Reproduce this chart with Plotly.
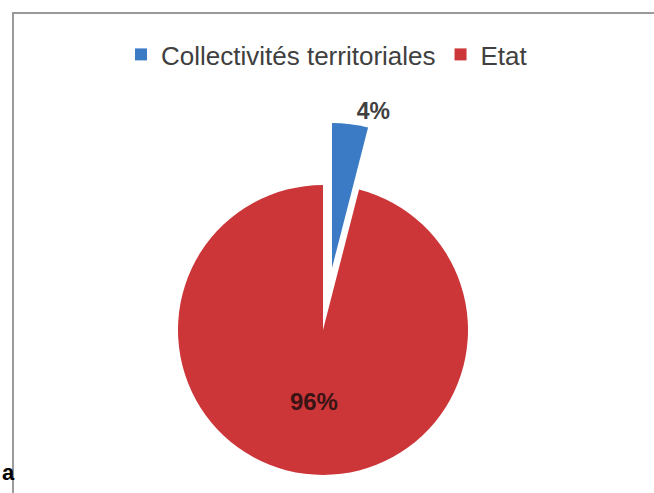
import plotly.graph_objects as go

labels = ["Collectivités territoriales", "Etat"]
values = [4, 96]
colors = ["#3B7BC6", "#CC3638"]
transparent = "rgba(0,0,0,0)"

W, H = 654, 493
FONT = "Liberation Sans"

# geometry (pixels)
red_c, red_r = (323, 330), 145
blue_c, blue_r = (332, 268), 145


def dom(c, r):
    cx, cy = c
    return dict(x=[(cx - r) / W, (cx + r) / W],
                y=[(H - cy - r) / H, (H - cy + r) / H])


fig = go.Figure()

# Red slice (Etat), in place
fig.add_trace(go.Pie(
    labels=labels, values=values, sort=False, direction="clockwise", rotation=0,
    marker=dict(colors=[transparent, colors[1]], line=dict(width=0)),
    textinfo="percent", textposition=["none", "inside"],
    insidetextorientation="horizontal",
    insidetextfont=dict(family=FONT, size=24, color="#3a1414", weight="bold"),
    domain=dom(red_c, red_r), showlegend=False, hoverinfo="label+percent",
))

# Blue slice (Collectivités territoriales), exploded
fig.add_trace(go.Pie(
    labels=labels, values=values, sort=False, direction="clockwise", rotation=0,
    marker=dict(colors=[colors[0], transparent], line=dict(width=0)),
    textinfo="percent", textposition=["outside", "none"],
    outsidetextfont=dict(family=FONT, size=23, color="#404040", weight="bold"),
    domain=dom(blue_c, blue_r), showlegend=False, hoverinfo="label+percent",
))

# legend entries
for lab, col in zip(labels, colors):
    fig.add_trace(go.Scatter(x=[None], y=[None], mode="markers", name=lab,
                             marker=dict(symbol="square", size=12, color=col)))

fig.update_layout(
    width=W, height=H, margin=dict(l=0, r=0, t=0, b=0),
    paper_bgcolor="white", plot_bgcolor="white",
    xaxis=dict(visible=False), yaxis=dict(visible=False),
    legend=dict(orientation="h", x=0.5, xanchor="center", y=1 - 31 / H, yanchor="top",
                font=dict(family=FONT, size=26, color="#404040"),
                bgcolor="rgba(0,0,0,0)", itemclick=False),
    shapes=[dict(type="rect", xref="paper", yref="paper",
                 x0=13 / W, x1=1.02, y0=-0.02, y1=1 - 13 / H,
                 line=dict(color="#9a9a9a", width=2), layer="below")],
    annotations=[dict(text="<b>a</b>", xref="paper", yref="paper", x=0, y=1 - 472 / H,
                      xanchor="left", yanchor="middle", xshift=0, showarrow=False,
                      font=dict(family=FONT, size=22, color="black"))],
)

fig.write_html("out.html")
